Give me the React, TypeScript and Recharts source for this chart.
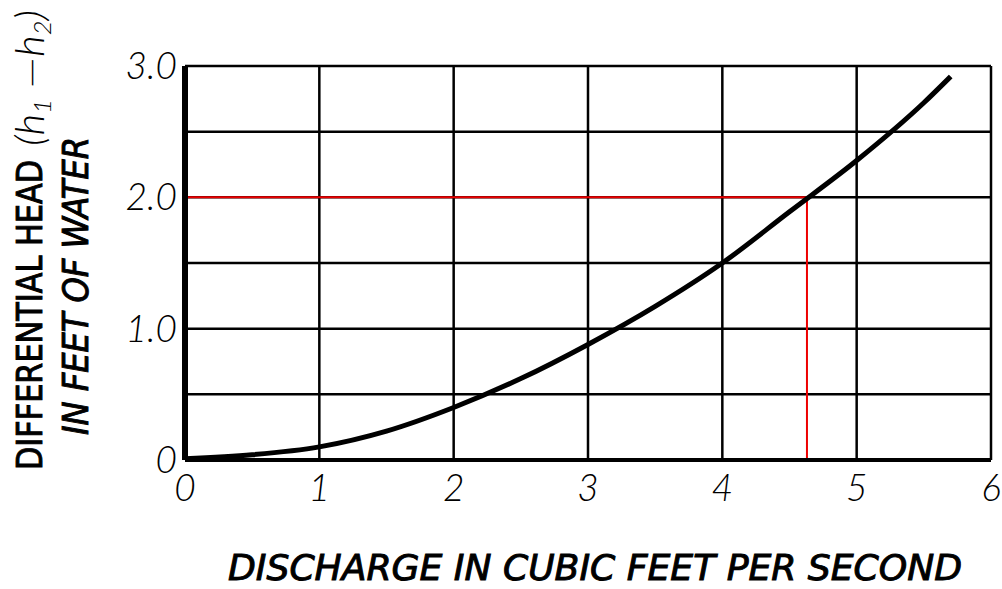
import React from "react";
import {
  LineChart,
  Line,
  XAxis,
  YAxis,
  CartesianGrid,
  Label,
} from "recharts";

// discharge (cfs) vs differential head (ft)
const discharge = [0, 0.5, 1, 1.5, 2, 2.5, 3, 3.5, 4, 4.5, 5, 5.5, 5.7];
const head = [0.01, 0.04, 0.1, 0.22, 0.4, 0.62, 0.88, 1.17, 1.5, 1.89, 2.28, 2.72, 2.92];

// red reading guide: 2.0 ft of head -> about 4.63 cfs
const readDischarge = [0, 4.63, 4.63];
const readHead = [2.0, 2.0, 0];

const xTicks = [0, 1, 2, 3, 4, 5, 6];
const yTicks = [0, 0.5, 1, 1.5, 2, 2.5, 3];
const yTickLabels = ["0", "", "1.0", "", "2.0", "", "3.0"];

const curveData = discharge.map((q, i) => ({ q, h: head[i] }));
const readData = readDischarge.map((q, i) => ({ q, h: readHead[i] }));

const tickFont = "Lato, 'DejaVu Sans', sans-serif";
const titleFont = "'DejaVu Sans Condensed', 'Liberation Sans', sans-serif";

function YTick({ x, y, payload }: any) {
  const idx = yTicks.indexOf(payload.value);
  const label = idx >= 0 ? yTickLabels[idx] : "";
  return (
    <text
      x={x}
      y={y}
      dy={13}
      textAnchor="end"
      fontFamily={tickFont}
      fontStyle="italic"
      fontWeight={300}
      fontSize={37}
      fill="#000"
    >
      {label}
    </text>
  );
}

function XTick({ x, y, payload }: any) {
  return (
    <text
      x={x}
      y={y}
      dy={27}
      textAnchor="middle"
      fontFamily={tickFont}
      fontStyle="italic"
      fontWeight={300}
      fontSize={37}
      fill="#000"
    >
      {payload.value}
    </text>
  );
}

// caps titles: regular weight thickened a little with a stroke
const capsStyle = {
  fontFamily: titleFont,
  fontSize: 35,
  fill: "#000",
  stroke: "#000",
  strokeWidth: 0.9,
};

function AxisTitles() {
  return (
    <g>
      <text
        x={228}
        y={580}
        textLength={734}
        lengthAdjust="spacingAndGlyphs"
        fontStyle="italic"
        {...capsStyle}
      >
        DISCHARGE IN CUBIC FEET PER SECOND
      </text>
      <text
        transform="translate(42,470) rotate(-90)"
        textLength={310}
        lengthAdjust="spacingAndGlyphs"
        {...capsStyle}
      >
        DIFFERENTIAL HEAD
      </text>
      <text
        transform="translate(44,146) rotate(-90)"
        textLength={136}
        lengthAdjust="spacingAndGlyphs"
        fontFamily={tickFont}
        fontStyle="italic"
        fontWeight={300}
        fontSize={40}
        fill="#000"
      >
        (h
        <tspan fontSize={24} dy={7}>1</tspan>
        <tspan dy={-7}> —h</tspan>
        <tspan fontSize={24} dy={7}>2</tspan>
        <tspan dy={-7}>)</tspan>
      </text>
      <text
        transform="translate(88,435) rotate(-90)"
        textLength={298}
        lengthAdjust="spacingAndGlyphs"
        fontStyle="italic"
        {...capsStyle}
      >
        IN FEET OF WATER
      </text>
    </g>
  );
}

export default function App() {
  return (
    <div style={{ position: "absolute", left: 0, top: 0, background: "#fff" }}>
      <LineChart
        width={1002}
        height={589}
        margin={{ top: 66, right: 11, left: 0, bottom: 0 }}
      >
        <CartesianGrid stroke="#000" strokeWidth={2.5} />
        <XAxis
          type="number"
          dataKey="q"
          domain={[0, 6]}
          ticks={xTicks}
          height={129}
          tickSize={0}
          tickMargin={14}
          tick={<XTick />}
          axisLine={{ stroke: "#000", strokeWidth: 4 }}
        >
          <Label content={() => <AxisTitles />} />
        </XAxis>
        <YAxis
          type="number"
          dataKey="h"
          domain={[0, 3]}
          ticks={yTicks}
          width={185}
          tickSize={0}
          tickMargin={8}
          tick={<YTick />}
          axisLine={{ stroke: "#000", strokeWidth: 6 }}
        />
        <Line
          data={readData}
          dataKey="h"
          type="linear"
          stroke="#ee0000"
          strokeWidth={2}
          dot={false}
          isAnimationActive={false}
        />
        <Line
          data={curveData}
          dataKey="h"
          type="monotone"
          stroke="#000"
          strokeWidth={5}
          dot={false}
          isAnimationActive={false}
        />
      </LineChart>
    </div>
  );
}
